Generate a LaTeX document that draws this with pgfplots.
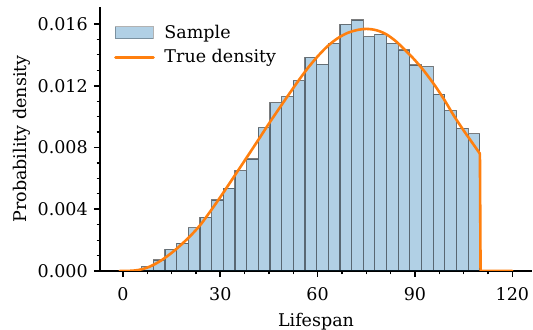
\documentclass[border=0pt]{standalone}
\usepackage{fontspec}
\setmainfont{DejaVu Serif}
\usepackage{pgfplots}
\pgfplotsset{compat=1.18}
\definecolor{tabblue}{RGB}{31,119,180}
\definecolor{taborange}{RGB}{255,127,14}
\begin{document}
\fontsize{8.75}{10.5}\selectfont
\begin{tikzpicture}
\useasboundingbox (-50pt,-29.5pt) rectangle (216.5pt,135.5pt);
\begin{axis}[
  at={(0,0)}, anchor=south west,
  scale only axis, width=216pt, height=132pt,
  xmin=-7.05, xmax=126.05, ymin=0, ymax=0.0171,
  axis x line*=bottom, axis y line*=left,
  axis line style={line width=0.8pt},
  xtick={0,30,60,90,120}, minor x tick num=3,
  ytick={0,0.004,0.008,0.012,0.016}, minor y tick num=3,
  tick align=outside,
  major tick length=3pt, minor tick length=1.75pt,
  major tick style={black, line width=0.8pt},
  minor tick style={black, line width=0.6pt},
  scaled y ticks=false,
  yticklabel style={/pgf/number format/.cd, fixed, fixed zerofill, precision=3},
  xticklabel style={yshift=-2pt},
  /pgf/number format/assume math mode=true,
  tick label style={font=\fontsize{8.75}{10.5}\selectfont},
  label style={font=\fontsize{8.75}{10.5}\selectfont},
  xlabel={Lifespan}, ylabel={Probability density},
  xlabel style={at={(axis description cs:0.5,-0.193)}, anchor=center},
  ylabel style={at={(axis description cs:-0.18,0.5)}, anchor=center},
  legend style={at={(0.018,0.964)}, anchor=north west, draw=none, fill=none,
    font=\fontsize{8.75}{10.5}\selectfont, row sep=0.3pt},
  legend cell align=left,
]
\addplot[ybar interval, fill=tabblue, fill opacity=0.35, draw=black, draw opacity=0.5, line width=0.6pt,
  legend image code/.code={\draw[fill=tabblue, fill opacity=0.35, draw=black, draw opacity=0.3, line width=0.6pt] (0pt,-3pt) rectangle (19pt,3pt); \path[draw=none, fill=none] (0pt,0pt) -- (22.5pt,0pt);}]
coordinates {
(2.170,0.00003)
(5.764,0.00028)
(9.358,0.00071)
(12.952,0.00140)
(16.546,0.00180)
(20.140,0.00280)
(23.734,0.00348)
(27.328,0.00460)
(30.922,0.00536)
(34.516,0.00650)
(38.110,0.00726)
(41.704,0.00928)
(45.298,0.01090)
(48.892,0.01130)
(52.486,0.01233)
(56.080,0.01384)
(59.674,0.01339)
(63.268,0.01475)
(66.862,0.01598)
(70.456,0.01626)
(74.050,0.01518)
(77.644,0.01533)
(81.238,0.01475)
(84.832,0.01432)
(88.426,0.01334)
(92.020,0.01324)
(95.614,0.01145)
(99.208,0.01039)
(102.802,0.00924)
(106.396,0.00888)
(109.990,0.00888)
};
\addlegendentry{Sample}
\addplot[taborange, line width=1.3pt, smooth, no markers, line cap=round, line join=round,
  legend image code/.code={\draw[taborange, line width=1.3pt] (0pt,0pt) -- (19pt,0pt); \path[draw=none, fill=none] (0pt,0pt) -- (22.5pt,0pt);}]
coordinates {
(-1,0) (0,0) (2,0.00001) (4,0.00004) (6,0.00012) (8,0.00026) (10,0.00046)
(12,0.00071) (14,0.00101) (16,0.00134) (18,0.00171) (20,0.00211) (22,0.00254)
(24,0.00302) (27,0.00388) (30,0.00478) (33,0.00572) (36,0.00667) (39,0.00762)
(42,0.00858) (45,0.00955) (48,0.01048) (51,0.01140) (54,0.01230) (57,0.01315)
(60,0.01390) (63,0.01455) (66,0.01505) (69,0.01540) (72,0.01560) (75,0.01568)
(78,0.01560) (81,0.01535) (84,0.01490) (87,0.01430) (90,0.01365) (93,0.01290)
(96,0.01205) (99,0.01110) (102,0.01005) (105,0.00910) (108,0.00820) (110,0.00760)
};
\addlegendentry{True density}
\addplot[taborange, line width=1.3pt, no markers, line cap=round, line join=round, forget plot]
coordinates {(110,0.00760) (110.2,0) (120,0)};
\end{axis}
\end{tikzpicture}
\end{document}
